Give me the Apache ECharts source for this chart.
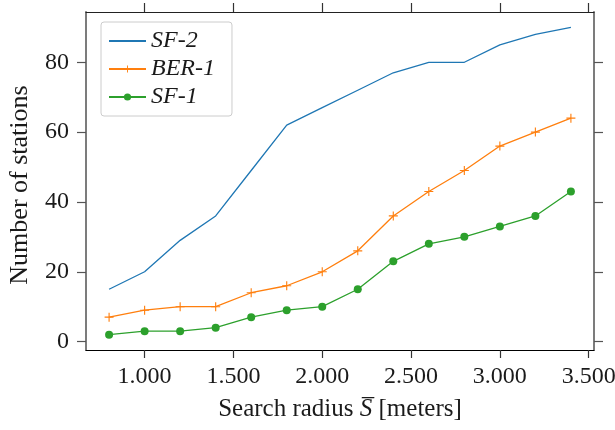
<!DOCTYPE html>
<html>
<head>
<meta charset="utf-8">
<script src="https://cdn.jsdelivr.net/npm/echarts@6/dist/echarts.min.js"></script>
<style>
  html, body { margin: 0; padding: 0; background: #fff; }
  #chart { width: 615px; height: 430px; }
</style>
</head>
<body>
<div id="chart"></div>
<script>
// Search radius in meters (x positions of the samples)
const radii = [800, 1000, 1200, 1400, 1600, 1800, 2000, 2200, 2400, 2600, 2800, 3000, 3200, 3400];

// Number of stations found for each dataset
const sf2 = [15, 20, 29, 36, 49, 62, 67, 72, 77, 80, 80, 85, 88, 90];
const ber1 = [7, 9, 10, 10, 14, 16, 20, 26, 36, 43, 49, 56, 60, 64];
const sf1 = [2, 3, 3, 4, 7, 9, 10, 15, 23, 28, 30, 33, 36, 43];

// Tick positions and their printed labels
const xTicks = [1000, 1500, 2000, 2500, 3000, 3500];
const xTickLabels = ['1.000', '1.500', '2.000', '2.500', '3.000', '3.500'];
const yTicks = [0, 20, 40, 60, 80];
const yTickLabels = ['0', '20', '40', '60', '80'];

const SERIF = '"Liberation Serif", "DejaVu Serif", serif';
const TEXT = '#1a1a1a';
const FS = 24;

const pair = (xs, ys) => xs.map((x, i) => [x, ys[i]]);
const plus = 'path://M7,0H9V7H16V9H9V16H7V9H0V7H7Z';

const xRange = { min: 670, max: 3530 };
const yRange = { min: -2.4, max: 94.4 };

const chart = echarts.init(document.getElementById('chart'), null, { renderer: 'canvas' });

chart.setOption({
  animation: false,
  backgroundColor: '#fff',
  grid: { left: 86, right: 21, top: 12, bottom: 80, outerBoundsMode: 'none' },
  legend: {
    orient: 'vertical',
    left: 101,
    top: 22,
    padding: [7, 17, 7, 7],
    itemWidth: 37,
    itemHeight: 9,
    itemGap: 4,
    backgroundColor: '#fff',
    borderColor: '#cccccc',
    borderWidth: 1,
    borderRadius: 3,
    textStyle: { fontFamily: SERIF, fontStyle: 'italic', fontSize: FS, color: TEXT, lineHeight: 22 },
    data: [
      { name: 'SF-2', itemStyle: { opacity: 0 } },
      { name: 'BER-1' },
      { name: 'SF-1' }
    ]
  },
  xAxis: [
    {
      type: 'value',
      position: 'bottom',
      ...xRange,
      name: '{r|Search radius }{i|S\u0305}{r| [meters]}',
      nameLocation: 'middle',
      nameGap: 47,
      nameTextStyle: {
        rich: {
          r: { fontFamily: SERIF, fontSize: FS + 1, color: TEXT },
          i: { fontFamily: SERIF, fontSize: FS + 1, fontStyle: 'italic', color: TEXT }
        }
      },
      axisLine: { onZero: false, lineStyle: { color: '#000', width: 1.2 } },
      axisTick: { show: true, inside: false, length: 8, customValues: xTicks, lineStyle: { color: '#333', width: 1.2 } },
      axisLabel: {
        customValues: xTicks,
        formatter: v => xTickLabels[xTicks.indexOf(v)],
        margin: 15,
        fontFamily: SERIF, fontSize: FS, color: TEXT
      },
      splitLine: { show: false }
    },
    {
      type: 'value',
      position: 'top',
      ...xRange,
      axisLine: { onZero: false, lineStyle: { color: '#222', width: 1.2 } },
      axisTick: { show: true, inside: false, length: 9, customValues: xTicks, lineStyle: { color: '#333', width: 1.2 } },
      axisLabel: { show: false },
      splitLine: { show: false }
    }
  ],
  yAxis: [
    {
      type: 'value',
      position: 'left',
      ...yRange,
      name: 'Number of stations',
      nameLocation: 'middle',
      nameGap: 53,
      nameRotate: 90,
      nameTextStyle: { fontFamily: SERIF, fontSize: FS + 2, color: TEXT, padding: [0, 8, 0, 0] },
      axisLine: { onZero: false, lineStyle: { color: '#6e6e6e', width: 1.8 } },
      axisTick: { show: true, inside: false, length: 9, customValues: yTicks, lineStyle: { color: '#555', width: 1.2 } },
      axisLabel: {
        customValues: yTicks,
        formatter: v => yTickLabels[yTicks.indexOf(v)],
        margin: 17,
        fontFamily: SERIF, fontSize: FS, color: TEXT
      },
      splitLine: { show: false }
    },
    {
      type: 'value',
      position: 'right',
      ...yRange,
      axisLine: { onZero: false, lineStyle: { color: '#6e6e6e', width: 1.8 } },
      axisTick: { show: true, inside: false, length: 9, customValues: yTicks, lineStyle: { color: '#555', width: 1.2 } },
      axisLabel: { show: false },
      splitLine: { show: false }
    }
  ],
  series: [
    {
      name: 'SF-2',
      type: 'line',
      data: pair(radii, sf2),
      symbol: 'none',
      color: '#1f77b4',
      lineStyle: { width: 1.3, color: '#1f77b4' }
    },
    {
      name: 'BER-1',
      type: 'line',
      data: pair(radii, ber1),
      symbol: plus,
      symbolSize: 9,
      color: '#ff7f0e',
      itemStyle: { color: '#ff7f0e' },
      lineStyle: { width: 1.3, color: '#ff7f0e' }
    },
    {
      name: 'SF-1',
      type: 'line',
      data: pair(radii, sf1),
      symbol: 'circle',
      symbolSize: 8,
      color: '#2ca02c',
      itemStyle: { color: '#2ca02c' },
      lineStyle: { width: 1.3, color: '#2ca02c' }
    }
  ]
});
</script>
</body>
</html>
